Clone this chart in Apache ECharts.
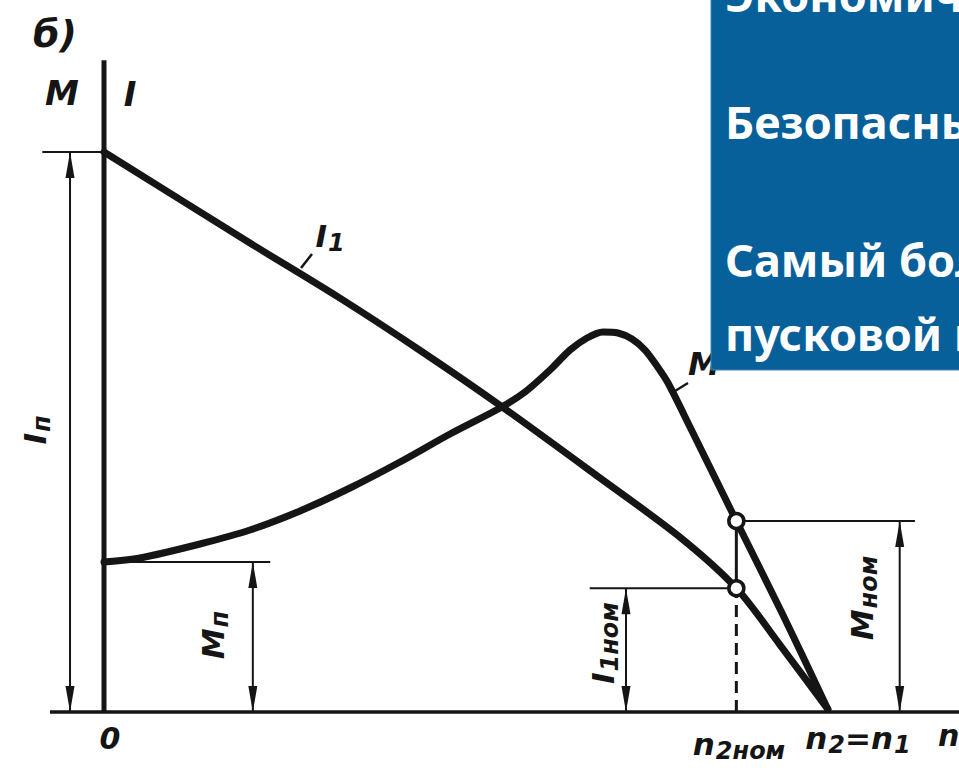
<!DOCTYPE html>
<html>
<head>
<meta charset="utf-8">
<script src="https://cdn.jsdelivr.net/npm/echarts@6/dist/echarts.min.js"></script>
<style>
  html, body { margin: 0; padding: 0; background: #fff; }
  #chart { width: 959px; height: 770px; }
</style>
</head>
<body>
<div id="chart"></div>
<script>
// Speed is relative to synchronous speed n1, current and torque relative to starting current Iп.

// Stator current I1 versus speed
const speedI = [0, 0.201, 0.325, 0.435, 0.545, 0.683, 0.793, 0.871, 0.931, 0.997];
const current = [1.0, 0.8375, 0.739, 0.646, 0.548, 0.418, 0.3125, 0.221, 0.12, 0.005];

// Torque M versus speed
const speedM = [0, 0.0496, 0.1322, 0.2011, 0.27, 0.3388, 0.4077, 0.4766, 0.5455, 0.5799, 0.6143, 0.6419, 0.6653,
                0.6873, 0.708, 0.7273, 0.7452, 0.7617, 0.7769, 0.8072, 0.871, 0.9339, 0.997];
const torque = [0.268, 0.275, 0.3, 0.325, 0.359, 0.4, 0.4464, 0.4964, 0.5429, 0.5714, 0.6107, 0.6464, 0.6679,
                0.6786, 0.6768, 0.6661, 0.6464, 0.6179, 0.5875, 0.5089, 0.341, 0.1768, 0.005];

// Characteristic values
const startCurrent = 1.0;     // Iп
const startTorque = 0.268;    // Mп
const nomSpeed = 0.871;       // n2ном
const nomCurrent = 0.221;     // I1ном
const nomTorque = 0.341;      // Mном

// Text of the side panel
const panelLines = ['Экономичный', 'Безопасный', 'Самый большой', 'пусковой момент'];

const INK = '#151515';
const pair = (xs, ys) => xs.map((x, i) => [x, ys[i]]);

// Plot frame: origin of the axes and pixel length of one unit
const W = 959, H = 770;
const originX = 104, originY = 712, unitX = 726, unitY = 560;

// Layout: horizontal extent of guide lines and arrow positions (axis units)
const axisXFrom = -0.0744, axisXTo = 1.2, axisYTop = 1.164;
const guideIpFrom = -0.085;
const guideMpTo = 0.229;
const guideInomFrom = 0.669;
const guideMnomTo = 1.117;
const arrowIpX = -0.0468, arrowMpX = 0.205, arrowInomX = 0.719, arrowMnomX = 1.096;

const arrows = [
  [arrowIpX, startCurrent],
  [arrowMpX, startTorque],
  [arrowInomX, nomCurrent],
  [arrowMnomX, nomTorque]
];

function thinLine(data, width, type) {
  return {
    type: 'line', data: data, symbol: 'none', silent: true, z: 3,
    lineStyle: { color: INK, width: width || 2, type: type || 'solid' }
  };
}

const series = [
  // coordinate axes
  thinLine([[0, 0], [0, axisYTop]], 5),
  thinLine([[axisXFrom, 0], [axisXTo, 0]], 3.5),
  // guide lines
  thinLine([[guideIpFrom, startCurrent], [0, startCurrent]], 2),
  thinLine([[0, startTorque], [guideMpTo, startTorque]], 2),
  thinLine([[guideInomFrom, nomCurrent], [nomSpeed, nomCurrent]], 2),
  thinLine([[nomSpeed, nomTorque], [guideMnomTo, nomTorque]], 2),
  thinLine([[nomSpeed, nomCurrent], [nomSpeed, nomTorque]], 3),
  {
    type: 'line', data: [[nomSpeed, 0], [nomSpeed, nomCurrent]], symbol: 'none', z: 3, silent: true,
    lineStyle: { color: INK, width: 3, type: [12, 7] }
  }
];

// dimension arrows: shafts
arrows.forEach(a => series.push(thinLine([[a[0], 0], [a[0], a[1]]], 2)));
// arrow heads
series.push({
  type: 'scatter', z: 4, silent: true,
  symbol: 'path://M5,0 L10,30 L0,30 Z', symbolSize: [9, 26], symbolOffset: [0, '50%'],
  itemStyle: { color: INK, opacity: 1 },
  data: arrows.map(a => [a[0], a[1]])
});
series.push({
  type: 'scatter', z: 4, silent: true,
  symbol: 'path://M0,0 L10,0 L5,30 Z', symbolSize: [9, 26], symbolOffset: [0, '-50%'],
  itemStyle: { color: INK, opacity: 1 },
  data: arrows.map(a => [a[0], 0])
});

// characteristic curves
series.push({
  name: 'I1', type: 'line', data: pair(speedI, current), smooth: 0.3, symbol: 'none', z: 5,
  lineStyle: { color: INK, width: 7, cap: 'round', join: 'round' }
});
series.push({
  name: 'M', type: 'line', data: pair(speedM, torque), smooth: 0.3, symbol: 'none', z: 5,
  lineStyle: { color: INK, width: 7, cap: 'round', join: 'round' }
});

// nominal operating points
series.push({
  type: 'scatter', z: 6, symbol: 'circle', symbolSize: 15,
  itemStyle: { color: '#ffffff', borderColor: INK, borderWidth: 3.5, opacity: 1 },
  data: [[nomSpeed, nomTorque], [nomSpeed, nomCurrent]]
});

const FONT = 'DejaVu Sans';
const baseText = { fill: INK, fontFamily: FONT, fontStyle: 'italic', fontWeight: 'bold', fontSize: 30 };
const subRich = {
  a: { fontFamily: FONT, fontStyle: 'italic', fontWeight: 'bold', fontSize: 31, fill: INK, color: INK },
  s: { fontFamily: FONT, fontStyle: 'italic', fontWeight: 'bold', fontSize: 24, fill: INK, color: INK, padding: [14, 0, 0, 1] }
};

function label(text, x, y, opts) {
  opts = opts || {};
  return {
    type: 'text', x: x, y: y, z: 10, rotation: opts.rotation || 0,
    style: Object.assign({}, baseText, {
      text: text, align: opts.align || 'center', verticalAlign: 'middle',
      fontSize: opts.size || 30, rich: subRich
    })
  };
}

const graphic = [
  label('б)', 55, 34, { size: 38 }),
  label('M', 62, 93, { size: 34 }),
  label('I', 130, 94, { size: 34 }),
  label('{a|I}{s|1}', 330, 236),
  label('M', 704, 364, { size: 32 }),
  label('{a|I}{s|п}', 35, 430, { rotation: Math.PI / 2 }),
  label('{a|M}{s|п}', 213, 635, { rotation: Math.PI / 2 }),
  label('{a|I}{s|1ном}', 603, 643, { rotation: Math.PI / 2 }),
  label('{a|M}{s|ном}', 862, 598, { rotation: Math.PI / 2 }),
  label('0', 110, 738, { size: 30 }),
  label('{a|n}{s|2ном}', 739, 744),
  label('{a|n}{s|2}{a|=n}{s|1}', 858, 738),
  label('n', 938, 735, { align: 'left' }),
  // leader ticks of the curve labels
  { type: 'line', z: 10, shape: { x1: 301, y1: 268, x2: 312, y2: 254 }, style: { stroke: INK, lineWidth: 2.5 } },
  { type: 'line', z: 10, shape: { x1: 675, y1: 391, x2: 688, y2: 383 }, style: { stroke: INK, lineWidth: 2.5 } },
  // side panel
  {
    type: 'rect', z: 50, shape: { x: 711, y: -5, width: 260, height: 375 },
    style: { fill: '#08609b', stroke: '#3f87bd', lineWidth: 1 }
  }
];

const panelY = [-6, 121, 259, 333];
panelLines.forEach((t, i) => {
  graphic.push({
    type: 'text', x: 725, y: panelY[i], z: 51,
    style: {
      text: t, fill: '#ffffff', fontFamily: 'Noto Sans', fontWeight: 'bold', fontSize: 45,
      align: 'left', verticalAlign: 'middle'
    }
  });
});

const chart = echarts.init(document.getElementById('chart'), null, { renderer: 'svg' });
chart.setOption({
  animation: false,
  backgroundColor: '#ffffff',
  grid: { left: 0, right: 0, top: 0, bottom: 0 },
  xAxis: { type: 'value', min: -originX / unitX, max: (W - originX) / unitX, show: false },
  yAxis: { type: 'value', min: -(H - originY) / unitY, max: originY / unitY, show: false },
  series: series,
  graphic: graphic
});
</script>
</body>
</html>
